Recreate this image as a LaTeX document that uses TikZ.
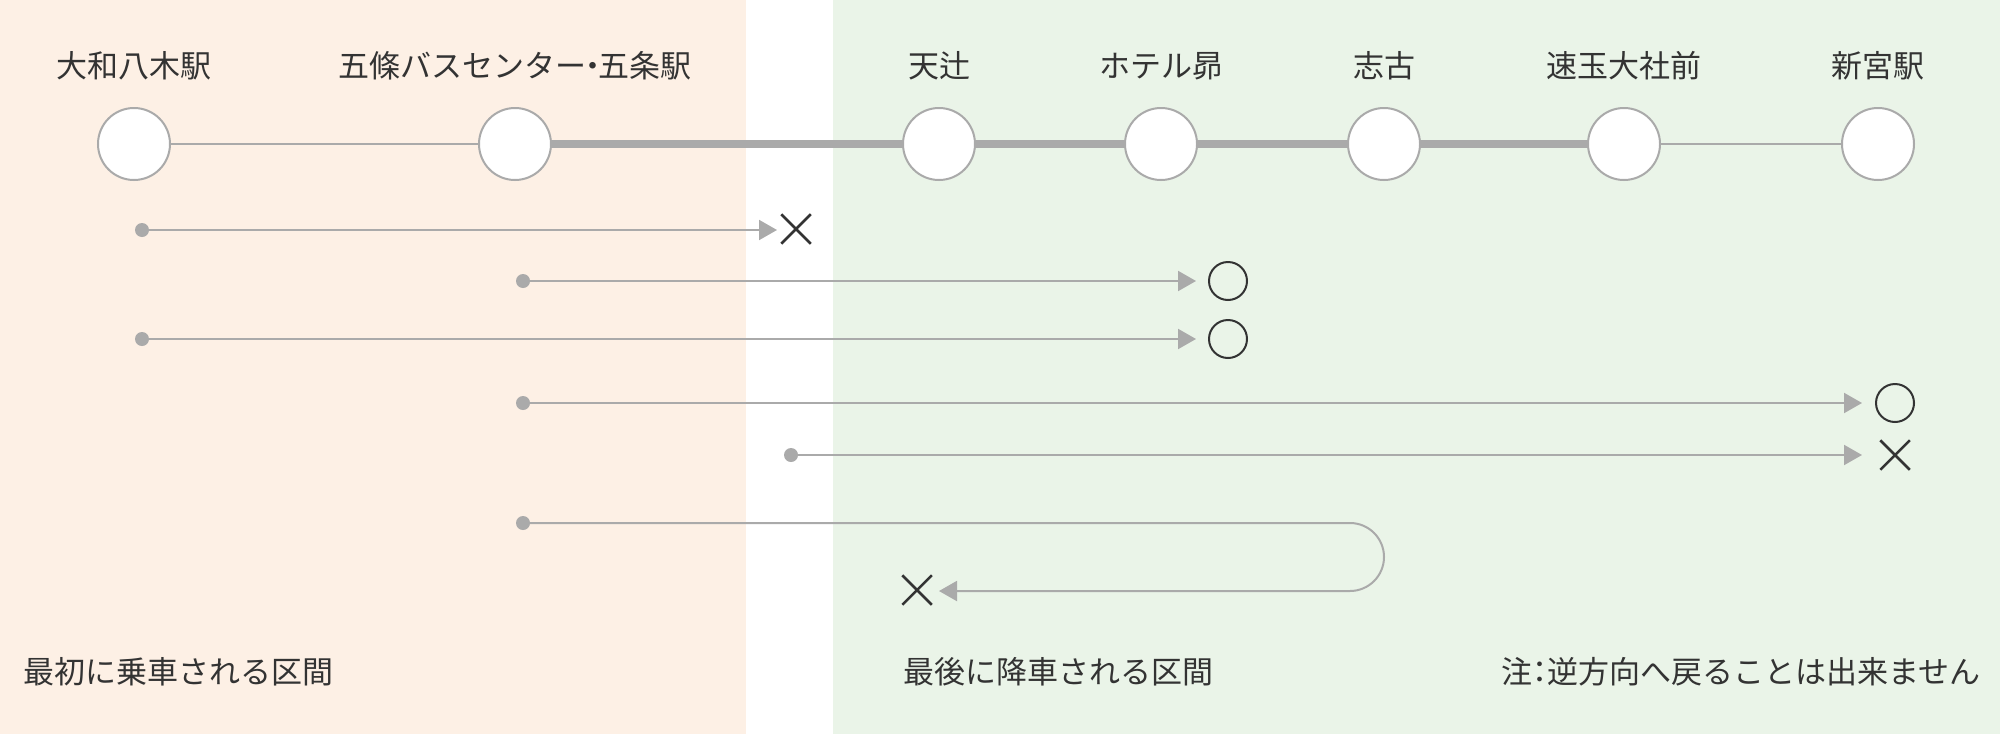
\documentclass[tikz,border=0pt]{standalone}
\usepackage{fontspec}
\setmainfont{Noto Sans CJK JP}
\usetikzlibrary{arrows.meta,shapes.misc}
\definecolor{txt}{HTML}{333333}
\definecolor{lgray}{HTML}{AAAAAA}
\definecolor{bgor}{HTML}{FDF0E5}
\definecolor{bggr}{HTML}{EAF4E8}
\begin{document}
\begin{tikzpicture}[x=1pt,y=-1pt,
  station/.style={circle,draw=lgray,line width=2pt,fill=white,minimum size=72pt,inner sep=0pt},
  slabel/.style={text=txt,font=\fontsize{31pt}{37pt}\selectfont,inner sep=0pt},
  blabel/.style={text=txt,font=\fontsize{31pt}{37pt}\selectfont,inner sep=0pt,anchor=west},
  thinline/.style={draw=lgray,line width=2pt},
  thickline/.style={draw=lgray,line width=8pt},
  startdot/.style={circle,fill=lgray,minimum size=14pt,inner sep=0pt},
  ride/.style={draw=lgray,line width=2pt,-{Triangle[length=18pt,width=20pt]}},
  okmark/.style={circle,draw=txt,line width=2pt,minimum size=38pt,inner sep=0pt},
  ngmark/.style={cross out,draw=txt,line width=2.5pt,minimum size=27pt,inner sep=0pt}
]
\useasboundingbox (0,0) rectangle (2000,734);
\fill[bgor] (0,0) rectangle (746,734);
\fill[bggr] (833,0) rectangle (2000,734);

% stations
\node[station] (s1) at (134,144) {};
\node[station] (s2) at (515,144) {};
\node[station] (s3) at (939,144) {};
\node[station] (s4) at (1161,144) {};
\node[station] (s5) at (1384,144) {};
\node[station] (s6) at (1624,144) {};
\node[station] (s7) at (1878,144) {};

\node[slabel] (l1) at (134,66) {大和八木駅};
\node[slabel] (l2) at (515,66) {五條バスセンター\kern-0.3em・\kern-0.3em五条駅};
\node[slabel] (l3) at (939,66) {天辻};
\node[slabel] (l4) at (1161,66) {ホテル昴};
\node[slabel] (l5) at (1384,66) {志古};
\node[slabel] (l6) at (1624,66) {速玉大社前};
\node[slabel] (l7) at (1878,66) {新宮駅};

\draw[thinline] (s1) -- (s2);
\draw[thickline] (s2) -- (s3);
\draw[thickline] (s3) -- (s4);
\draw[thickline] (s4) -- (s5);
\draw[thickline] (s5) -- (s6);
\draw[thinline] (s6) -- (s7);

% row 1
\node[startdot] (d1) at (142,230) {};
\coordinate (t1) at (777,230);
\node[ngmark] (m1) at (796,229) {};
\draw[ride] (d1.center) -- (t1);

% row 2
\node[startdot] (d2) at (523,281) {};
\coordinate (t2) at (1196,281);
\node[okmark] (m2) at (1228,281) {};
\draw[ride] (d2.center) -- (t2);

% row 3
\node[startdot] (d3) at (142,339) {};
\coordinate (t3) at (1196,339);
\node[okmark] (m3) at (1228,339) {};
\draw[ride] (d3.center) -- (t3);

% row 4
\node[startdot] (d4) at (523,403) {};
\coordinate (t4) at (1862,403);
\node[okmark] (m4) at (1895,403) {};
\draw[ride] (d4.center) -- (t4);

% row 5
\node[startdot] (d5) at (791,455) {};
\coordinate (t5) at (1862,455);
\node[ngmark] (m5) at (1895,455) {};
\draw[ride] (d5.center) -- (t5);

% row 6 (return)
\node[startdot] (d6) at (523,523) {};
\coordinate (c6) at (1350,523);
\coordinate (t6) at (939,591);
\node[ngmark] (m6) at (917,590) {};
\draw[ride] (d6.center) -- (c6) arc[start angle=-90,end angle=90,radius=34] -- (t6);

% bottom labels
\node[blabel] (b1) at (23,672) {最初に乗車される区間};
\node[blabel] (b2) at (903,672) {最後に降車される区間};
\node[blabel] (b3) at (1501,672) {注\kern-0.25em：\kern-0.25em逆方向へ戻ることは出来ません};
\end{tikzpicture}
\end{document}
